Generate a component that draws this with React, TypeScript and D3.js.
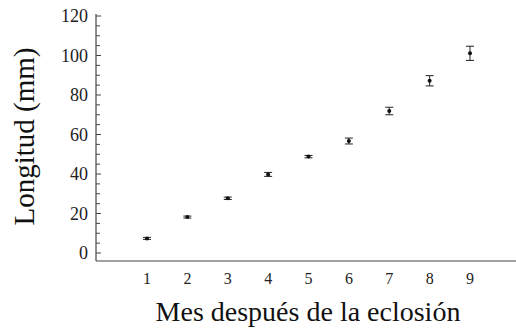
import React, { useRef, useEffect } from 'react';
import * as d3 from 'd3';

const months = [1, 2, 3, 4, 5, 6, 7, 8, 9];
const lengths = [7.4, 18.2, 27.7, 39.8, 48.8, 56.7, 71.9, 87.2, 101.1];
const errors = [0.5, 0.5, 0.6, 1.0, 0.6, 1.5, 1.9, 2.6, 3.6];
const yTicks = [0, 20, 40, 60, 80, 100, 120];

export default function App() {
  const svgRef = useRef<SVGSVGElement>(null);

  useEffect(() => {
    const svg = d3.select(svgRef.current);
    svg.selectAll('*').remove();

    const width = 516;
    const height = 330;
    const font = '"Liberation Serif", "Times New Roman", serif';

    const x = d3.scaleLinear().domain([1, 9]).range([147, 470]);
    const y = d3.scaleLinear().domain([0, 120]).range([253, 16]);
    const axisX = 96;
    const axisY = 261;

    svg.attr('width', width).attr('height', height);

    // Y axis
    const yAxis = svg.append('g').attr('transform', `translate(${axisX},0)`);
    yAxis.append('line')
      .attr('x1', 0).attr('x2', 0)
      .attr('y1', y(120) - 2).attr('y2', axisY)
      .attr('stroke', '#444').attr('stroke-width', 1.2);

    d3.range(0, 121, 5).forEach(v => {
      const major = v % 20 === 0;
      yAxis.append('line')
        .attr('x1', 0).attr('x2', major ? 5 : 4)
        .attr('y1', y(v)).attr('y2', y(v))
        .attr('stroke', '#444').attr('stroke-width', 1);
    });

    yAxis.selectAll('text.tick')
      .data(yTicks)
      .enter()
      .append('text')
      .attr('class', 'tick')
      .attr('x', -8)
      .attr('y', d => y(d))
      .attr('dy', '0.35em')
      .attr('text-anchor', 'end')
      .attr('font-family', font)
      .attr('font-size', 18)
      .attr('fill', '#222')
      .text(d => d);

    // X axis
    svg.append('line')
      .attr('x1', axisX).attr('x2', width)
      .attr('y1', axisY).attr('y2', axisY)
      .attr('stroke', '#444').attr('stroke-width', 1.2);

    svg.selectAll('text.xtick')
      .data(months)
      .enter()
      .append('text')
      .attr('class', 'xtick')
      .attr('x', d => x(d))
      .attr('y', 284)
      .attr('text-anchor', 'middle')
      .attr('font-family', font)
      .attr('font-size', 16)
      .attr('fill', '#222')
      .text(d => d);

    // Error bars
    const capW = 4;
    const g = svg.append('g');
    months.forEach((m, i) => {
      const cx = x(m);
      const top = y(lengths[i] + errors[i]);
      const bot = y(lengths[i] - errors[i]);
      g.append('line')
        .attr('x1', cx).attr('x2', cx).attr('y1', top).attr('y2', bot)
        .attr('stroke', '#222').attr('stroke-width', 1);
      [top, bot].forEach(yy => {
        g.append('line')
          .attr('x1', cx - capW).attr('x2', cx + capW)
          .attr('y1', yy).attr('y2', yy)
          .attr('stroke', '#222').attr('stroke-width', 1);
      });
      g.append('circle')
        .attr('cx', cx).attr('cy', y(lengths[i]))
        .attr('r', 2)
        .attr('fill', '#111');
    });

    // Axis titles
    svg.append('text')
      .attr('transform', `translate(34,${(y(0) + y(120)) / 2 + 2}) rotate(-90)`)
      .attr('text-anchor', 'middle')
      .attr('font-family', font)
      .attr('font-size', 29)
      .attr('fill', '#111')
      .text('Longitud (mm)');

    svg.append('text')
      .attr('x', 308)
      .attr('y', 321)
      .attr('text-anchor', 'middle')
      .attr('font-family', font)
      .attr('font-size', 28)
      .attr('fill', '#111')
      .text('Mes después de la eclosión');
  }, []);

  return (
    <svg
      ref={svgRef}
      style={{ position: 'fixed', top: 0, left: 0, display: 'block', background: '#fff' }}
    ></svg>
  );
}
